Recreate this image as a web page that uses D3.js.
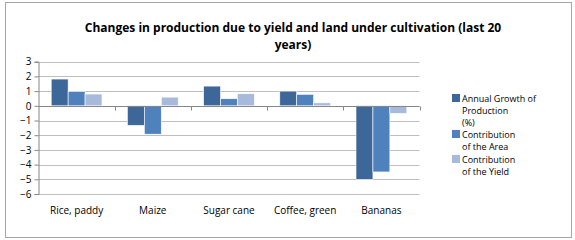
<!DOCTYPE html>
<html>
<head>
<meta charset="utf-8">
<script src="https://cdn.jsdelivr.net/npm/d3@7"></script>
<style>
body { margin: 0; background: #fff; }
text { font-family: "Open Sans", "Liberation Sans", sans-serif; }
</style>
</head>
<body>
<svg id="chart" width="575" height="240"></svg>
<script>
const categories = ['Rice, paddy', 'Maize', 'Sugar cane', 'Coffee, green', 'Bananas'];
const seriesNames = ['Annual Growth of Production (%)', 'Contribution of the Area', 'Contribution of the Yield'];
const growth = [1.82, -1.33, 1.34, 1.0, -5.0];
const area = [0.97, -1.93, 0.48, 0.78, -4.5];
const yieldc = [0.8, 0.59, 0.82, 0.2, -0.52];
const yTicks = [3, 2, 1, 0, -1, -2, -3, -4, -5, -6];
const colors = ['#3D6799', '#4F81BD', '#A8BADB'];

const series = [growth, area, yieldc];
const svg = d3.select('#chart');

// frame
svg.append('rect')
    .attr('x', 5.5).attr('y', 2.5)
    .attr('width', 566).attr('height', 235)
    .attr('fill', '#fff')
    .attr('stroke', '#a6a6a6');

// title
svg.append('text')
    .attr('x', 293).attr('y', 32)
    .attr('text-anchor', 'middle')
    .style('font-size', '12px').style('font-weight', 'bold')
    .text('Changes in production due to yield and land under cultivation (last 20');
svg.append('text')
    .attr('x', 293).attr('y', 49)
    .attr('text-anchor', 'middle')
    .style('font-size', '12px').style('font-weight', 'bold')
    .text('years)');

const left = 38.5, right = 419.5;
const y = d3.scaleLinear().domain([-6, 3]).range([194, 61.7]);
const x0 = d3.scaleBand().domain(categories).range([left, right]);
const x1 = d3.scaleBand().domain(d3.range(3)).range([0, x0.bandwidth()]).paddingOuter(0.75);

// gridlines
svg.append('g')
    .selectAll('line')
    .data(yTicks)
    .join('line')
    .attr('x1', left).attr('x2', right)
    .attr('y1', d => Math.round(y(d)) + 0.5).attr('y2', d => Math.round(y(d)) + 0.5)
    .attr('stroke', '#bfbfbf');

// bars
categories.forEach((c, i) => {
    svg.append('g')
        .selectAll('rect')
        .data(series.map((s, k) => ({ k: k, v: s[i] })))
        .join('rect')
        .attr('x', d => x0(c) + x1(d.k))
        .attr('width', x1.bandwidth())
        .attr('y', d => y(Math.max(0, d.v)))
        .attr('height', d => Math.abs(y(d.v) - y(0)))
        .attr('fill', d => colors[d.k])
        .attr('stroke', '#fff')
        .attr('stroke-width', 0.6);
});

// y axis
const yAxis = svg.append('g')
    .attr('transform', `translate(${left},0)`)
    .call(d3.axisLeft(y).tickValues(yTicks).tickFormat(d3.format('d')).tickSize(4).tickPadding(3));
yAxis.select('.domain').attr('stroke', '#868686');
yAxis.selectAll('.tick line').attr('stroke', '#868686');
yAxis.selectAll('.tick text').style('font-size', '10px').attr('fill', '#000');

// x axis at zero
const x0pos = Math.round(y(0)) + 0.5;
svg.append('line')
    .attr('x1', left).attr('x2', right)
    .attr('y1', x0pos).attr('y2', x0pos)
    .attr('stroke', '#868686');
svg.append('g')
    .selectAll('line')
    .data(categories)
    .join('line')
    .attr('x1', d => Math.round(x0(d) + x0.bandwidth()) + 0.5)
    .attr('x2', d => Math.round(x0(d) + x0.bandwidth()) + 0.5)
    .attr('y1', x0pos).attr('y2', x0pos + 4)
    .attr('stroke', '#868686');

// category labels
svg.append('g')
    .selectAll('text')
    .data(categories)
    .join('text')
    .attr('x', d => x0(d) + x0.bandwidth() / 2)
    .attr('y', 214)
    .attr('text-anchor', 'middle')
    .style('font-size', '10px')
    .text(d => d);

// legend
const legendLines = [['Annual Growth of', 'Production', '(%)'], ['Contribution', 'of the Area'], ['Contribution', 'of the Yield']];
const legendY = [98, 134, 159];
legendLines.forEach((lines, i) => {
    svg.append('rect')
        .attr('x', 452).attr('y', legendY[i] - 4)
        .attr('width', 8).attr('height', 8)
        .attr('fill', colors[i]);
    svg.append('g')
        .selectAll('text')
        .data(lines)
        .join('text')
        .attr('x', 462)
        .attr('y', (d, j) => legendY[i] + j * 12 + 3.5)
        .style('font-size', '9px')
        .text(d => d);
});
</script>
</body>
</html>
